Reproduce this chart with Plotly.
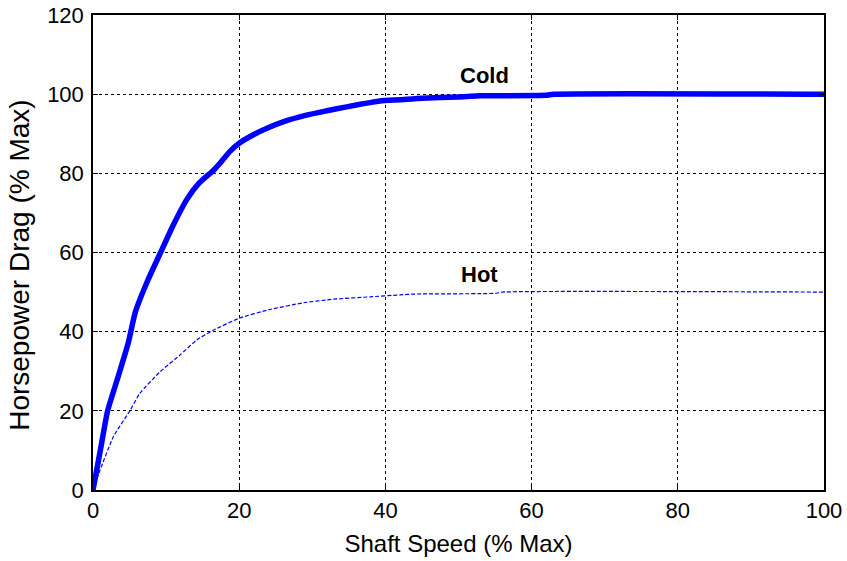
import plotly.graph_objects as go

cold_x = [0, 1, 2, 3.5, 4.8, 5.8, 7.5, 9.4, 11, 12.8, 14.5, 16.5, 17.4, 18.7, 20, 22, 23.8, 26, 29.2, 32, 34.7, 37, 39.3, 42, 45, 50, 53, 62, 63, 100]
cold_y = [0, 10, 20, 29, 37, 45, 53, 60.6, 67, 73.3, 77.5, 80.8, 82.6, 85.5, 87.6, 89.8, 91.4, 93, 94.7, 95.8, 96.8, 97.6, 98.3, 98.6, 99.0, 99.3, 99.6, 99.7, 100, 100]

hot_x = [0, 0.96, 2.8, 5.1, 6.4, 9.2, 11.9, 14.2, 16.5, 20, 24.2, 28.8, 32.9, 37.9, 42, 44, 55.2, 56, 100]
hot_y = [0, 5, 13.5, 20.2, 24.4, 29.9, 34.1, 37.9, 40.4, 43.4, 45.6, 47.3, 48.2, 48.8, 49.3, 49.5, 49.7, 50, 50]

x_ticks = [0, 20, 40, 60, 80, 100]
y_ticks = [0, 20, 40, 60, 80, 100, 120]

labels = [("Cold", 53.6, 104.6), ("Hot", 52.9, 54.5)]

x_title = "Shaft Speed (% Max)"
y_title = "Horsepower Drag (% Max)"

FONT = "Liberation Sans, Arial"

fig = go.Figure()
fig.add_trace(go.Scatter(x=cold_x, y=cold_y, mode="lines", line_shape="spline",
                         line=dict(color="#0000ff", width=5.5, smoothing=0.5), showlegend=False))
fig.add_trace(go.Scatter(x=hot_x, y=hot_y, mode="lines", line_shape="spline",
                         line=dict(color="#0000ff", width=1.2, dash="4px,2px", smoothing=0.5),
                         showlegend=False))

for txt, lx, ly in labels:
    fig.add_annotation(x=lx, y=ly, text="<b>" + txt + "</b>", showarrow=False,
                       font=dict(family=FONT, size=22, color="black"))

# y-axis title placed as a rotated annotation for exact position
fig.add_annotation(xref="paper", yref="paper", x=-0.0999, y=0.474, text=y_title,
                   textangle=-90, showarrow=False, xanchor="center", yanchor="middle",
                   font=dict(family=FONT, size=28, color="black"))

axis_common = dict(showline=True, linecolor="black", linewidth=1.5, mirror="ticks",
                   ticks="inside", ticklen=5, tickcolor="black",
                   showgrid=True, gridcolor="black", gridwidth=1, griddash="dot",
                   zeroline=False, automargin=False, ticklabeloverflow="allow",
                   tickfont=dict(family=FONT, size=22, color="black"))

fig.update_xaxes(range=[0, 100], tickvals=x_ticks,
                 title=dict(text=x_title, standoff=13,
                            font=dict(family=FONT, size=24, color="black")),
                 **axis_common)
fig.update_yaxes(range=[0, 120], tickvals=y_ticks, ticklabelstandoff=3, **axis_common)

fig.update_layout(width=847, height=561, plot_bgcolor="white", paper_bgcolor="white",
                  margin=dict(l=93, r=23, t=15, b=71))

fig.write_html("out.html", config={"displayModeBar": False},
               post_script="document.body.style.margin='0';document.body.style.overflow='hidden';")
